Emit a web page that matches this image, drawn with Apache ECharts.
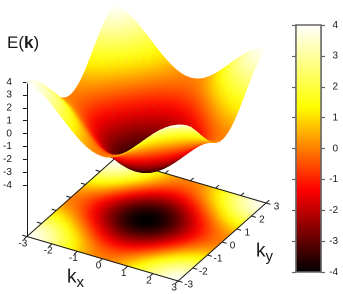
<!DOCTYPE html>
<html><head><meta charset="utf-8">
<style>html,body{margin:0;padding:0;background:#fff}#c{width:343px;height:294px;filter:blur(0.3px)}</style>
<script src="https://cdn.jsdelivr.net/npm/echarts@6/dist/echarts.min.js"></script>
</head><body><div id="c"></div>
<script>
const kValues=[-3,-2.8,-2.6,-2.4,-2.2,-2,-1.8,-1.6,-1.4,-1.2,-1,-.8,-.6,-.4,-.2,0,.2,.4,.6,.8,1,1.2,1.4,1.6,1.8,2,2.2,2.4,2.6,2.8,3];
const energy=[
[3.96,3.86,3.69,3.45,3.16,2.81,2.43,2.04,1.64,1.26,.9,.59,.33,.14,.02,-.02,.02,.14,.33,.59,.9,1.26,1.64,2.04,2.43,2.81,3.16,3.45,3.69,3.86,3.96],
[3.86,3.76,3.59,3.35,3.06,2.71,2.33,1.94,1.54,1.16,.8,.49,.23,.04,-.08,-.12,-.08,.04,.23,.49,.8,1.16,1.54,1.94,2.33,2.71,3.06,3.35,3.59,3.76,3.86],
[3.69,3.59,3.42,3.18,2.89,2.54,2.16,1.77,1.37,.99,.63,.32,.06,-.13,-.25,-.29,-.25,-.13,.06,.32,.63,.99,1.37,1.77,2.16,2.54,2.89,3.18,3.42,3.59,3.69],
[3.45,3.35,3.18,2.94,2.65,2.3,1.92,1.53,1.13,.75,.39,.08,-.18,-.37,-.49,-.53,-.49,-.37,-.18,.08,.39,.75,1.13,1.53,1.92,2.3,2.65,2.94,3.18,3.35,3.45],
[3.16,3.06,2.89,2.65,2.36,2.01,1.63,1.24,.84,.46,.1,-.21,-.47,-.66,-.78,-.82,-.78,-.66,-.47,-.21,.1,.46,.84,1.24,1.63,2.01,2.36,2.65,2.89,3.06,3.16],
[2.81,2.71,2.54,2.3,2.01,1.66,1.28,.89,.49,.11,-.25,-.56,-.82,-1.01,-1.13,-1.17,-1.13,-1.01,-.82,-.56,-.25,.11,.49,.89,1.28,1.66,2.01,2.3,2.54,2.71,2.81],
[2.43,2.33,2.16,1.92,1.63,1.28,.9,.51,.11,-.27,-.63,-.94,-1.2,-1.39,-1.51,-1.55,-1.51,-1.39,-1.2,-.94,-.63,-.27,.11,.51,.9,1.28,1.63,1.92,2.16,2.33,2.43],
[2.04,1.94,1.77,1.53,1.24,.89,.51,.12,-.28,-.66,-1.02,-1.33,-1.59,-1.78,-1.9,-1.94,-1.9,-1.78,-1.59,-1.33,-1.02,-.66,-.28,.12,.51,.89,1.24,1.53,1.77,1.94,2.04],
[1.64,1.54,1.37,1.13,.84,.49,.11,-.28,-.68,-1.06,-1.42,-1.73,-1.99,-2.18,-2.3,-2.34,-2.3,-2.18,-1.99,-1.73,-1.42,-1.06,-.68,-.28,.11,.49,.84,1.13,1.37,1.54,1.64],
[1.26,1.16,.99,.75,.46,.11,-.27,-.66,-1.06,-1.44,-1.8,-2.11,-2.37,-2.56,-2.68,-2.72,-2.68,-2.56,-2.37,-2.11,-1.8,-1.44,-1.06,-.66,-.27,.11,.46,.75,.99,1.16,1.26],
[.9,.8,.63,.39,.1,-.25,-.63,-1.02,-1.42,-1.8,-2.16,-2.47,-2.73,-2.92,-3.04,-3.08,-3.04,-2.92,-2.73,-2.47,-2.16,-1.8,-1.42,-1.02,-.63,-.25,.1,.39,.63,.8,.9],
[.59,.49,.32,.08,-.21,-.56,-.94,-1.33,-1.73,-2.11,-2.47,-2.78,-3.04,-3.23,-3.35,-3.39,-3.35,-3.23,-3.04,-2.78,-2.47,-2.11,-1.73,-1.33,-.94,-.56,-.21,.08,.32,.49,.59],
[.33,.23,.06,-.18,-.47,-.82,-1.2,-1.59,-1.99,-2.37,-2.73,-3.04,-3.3,-3.49,-3.61,-3.65,-3.61,-3.49,-3.3,-3.04,-2.73,-2.37,-1.99,-1.59,-1.2,-.82,-.47,-.18,.06,.23,.33],
[.14,.04,-.13,-.37,-.66,-1.01,-1.39,-1.78,-2.18,-2.56,-2.92,-3.23,-3.49,-3.68,-3.8,-3.84,-3.8,-3.68,-3.49,-3.23,-2.92,-2.56,-2.18,-1.78,-1.39,-1.01,-.66,-.37,-.13,.04,.14],
[.02,-.08,-.25,-.49,-.78,-1.13,-1.51,-1.9,-2.3,-2.68,-3.04,-3.35,-3.61,-3.8,-3.92,-3.96,-3.92,-3.8,-3.61,-3.35,-3.04,-2.68,-2.3,-1.9,-1.51,-1.13,-.78,-.49,-.25,-.08,.02],
[-.02,-.12,-.29,-.53,-.82,-1.17,-1.55,-1.94,-2.34,-2.72,-3.08,-3.39,-3.65,-3.84,-3.96,-4,-3.96,-3.84,-3.65,-3.39,-3.08,-2.72,-2.34,-1.94,-1.55,-1.17,-.82,-.53,-.29,-.12,-.02],
[.02,-.08,-.25,-.49,-.78,-1.13,-1.51,-1.9,-2.3,-2.68,-3.04,-3.35,-3.61,-3.8,-3.92,-3.96,-3.92,-3.8,-3.61,-3.35,-3.04,-2.68,-2.3,-1.9,-1.51,-1.13,-.78,-.49,-.25,-.08,.02],
[.14,.04,-.13,-.37,-.66,-1.01,-1.39,-1.78,-2.18,-2.56,-2.92,-3.23,-3.49,-3.68,-3.8,-3.84,-3.8,-3.68,-3.49,-3.23,-2.92,-2.56,-2.18,-1.78,-1.39,-1.01,-.66,-.37,-.13,.04,.14],
[.33,.23,.06,-.18,-.47,-.82,-1.2,-1.59,-1.99,-2.37,-2.73,-3.04,-3.3,-3.49,-3.61,-3.65,-3.61,-3.49,-3.3,-3.04,-2.73,-2.37,-1.99,-1.59,-1.2,-.82,-.47,-.18,.06,.23,.33],
[.59,.49,.32,.08,-.21,-.56,-.94,-1.33,-1.73,-2.11,-2.47,-2.78,-3.04,-3.23,-3.35,-3.39,-3.35,-3.23,-3.04,-2.78,-2.47,-2.11,-1.73,-1.33,-.94,-.56,-.21,.08,.32,.49,.59],
[.9,.8,.63,.39,.1,-.25,-.63,-1.02,-1.42,-1.8,-2.16,-2.47,-2.73,-2.92,-3.04,-3.08,-3.04,-2.92,-2.73,-2.47,-2.16,-1.8,-1.42,-1.02,-.63,-.25,.1,.39,.63,.8,.9],
[1.26,1.16,.99,.75,.46,.11,-.27,-.66,-1.06,-1.44,-1.8,-2.11,-2.37,-2.56,-2.68,-2.72,-2.68,-2.56,-2.37,-2.11,-1.8,-1.44,-1.06,-.66,-.27,.11,.46,.75,.99,1.16,1.26],
[1.64,1.54,1.37,1.13,.84,.49,.11,-.28,-.68,-1.06,-1.42,-1.73,-1.99,-2.18,-2.3,-2.34,-2.3,-2.18,-1.99,-1.73,-1.42,-1.06,-.68,-.28,.11,.49,.84,1.13,1.37,1.54,1.64],
[2.04,1.94,1.77,1.53,1.24,.89,.51,.12,-.28,-.66,-1.02,-1.33,-1.59,-1.78,-1.9,-1.94,-1.9,-1.78,-1.59,-1.33,-1.02,-.66,-.28,.12,.51,.89,1.24,1.53,1.77,1.94,2.04],
[2.43,2.33,2.16,1.92,1.63,1.28,.9,.51,.11,-.27,-.63,-.94,-1.2,-1.39,-1.51,-1.55,-1.51,-1.39,-1.2,-.94,-.63,-.27,.11,.51,.9,1.28,1.63,1.92,2.16,2.33,2.43],
[2.81,2.71,2.54,2.3,2.01,1.66,1.28,.89,.49,.11,-.25,-.56,-.82,-1.01,-1.13,-1.17,-1.13,-1.01,-.82,-.56,-.25,.11,.49,.89,1.28,1.66,2.01,2.3,2.54,2.71,2.81],
[3.16,3.06,2.89,2.65,2.36,2.01,1.63,1.24,.84,.46,.1,-.21,-.47,-.66,-.78,-.82,-.78,-.66,-.47,-.21,.1,.46,.84,1.24,1.63,2.01,2.36,2.65,2.89,3.06,3.16],
[3.45,3.35,3.18,2.94,2.65,2.3,1.92,1.53,1.13,.75,.39,.08,-.18,-.37,-.49,-.53,-.49,-.37,-.18,.08,.39,.75,1.13,1.53,1.92,2.3,2.65,2.94,3.18,3.35,3.45],
[3.69,3.59,3.42,3.18,2.89,2.54,2.16,1.77,1.37,.99,.63,.32,.06,-.13,-.25,-.29,-.25,-.13,.06,.32,.63,.99,1.37,1.77,2.16,2.54,2.89,3.18,3.42,3.59,3.69],
[3.86,3.76,3.59,3.35,3.06,2.71,2.33,1.94,1.54,1.16,.8,.49,.23,.04,-.08,-.12,-.08,.04,.23,.49,.8,1.16,1.54,1.94,2.33,2.71,3.06,3.35,3.59,3.76,3.86],
[3.96,3.86,3.69,3.45,3.16,2.81,2.43,2.04,1.64,1.26,.9,.59,.33,.14,.02,-.02,.02,.14,.33,.59,.9,1.26,1.64,2.04,2.43,2.81,3.16,3.45,3.69,3.86,3.96]
];
const kTicks=[-3,-2,-1,0,1,2,3];
const zTicks=[-4,-3,-2,-1,0,1,2,3,4];
const colorStops=['#000000','#ff0000','#ffff00','#ffffff'];
const BASE_Z=-8, TOP_Z=4, PAL_MIN=-4, PAL_MAX=4;
const INK='#1a1a1a', FRAME='#666666';

const stopRgb=[[0,0,0],[255,0,0],[255,255,0],[255,255,255]];
function palette(v){
  let t=(v-PAL_MIN)/(PAL_MAX-PAL_MIN); t=Math.max(0,Math.min(1,t))*3;
  const n=Math.min(2,Math.floor(t)), f=t-n, a=stopRgb[n], b=stopRgb[n+1];
  return 'rgb('+a.map((c,m)=>Math.round(c+(b[m]-c)*f)).join(',')+')';
}
// oblique view: maps (kx,ky,z) to the two hidden/plot axes of the main grid
function view(kx,ky,z){return [(kx+3)+0.5813*(ky+3), z-0.576*(kx+3)+1.01*(ky+3)];}

function cellShape(api,i,j,zAt){
  const idx=[[i,j],[i+1,j],[i+1,j+1],[i,j+1]];
  const vals=idx.map(q=>energy[q[0]][q[1]]);
  const pts=idx.map((q,m)=>api.coord(view(kValues[q[0]],kValues[q[1]],zAt(vals[m]))));
  const e1=[(pts[1][0]-pts[0][0]+pts[2][0]-pts[3][0])/2,(pts[1][1]-pts[0][1]+pts[2][1]-pts[3][1])/2];
  const e2=[(pts[3][0]-pts[0][0]+pts[2][0]-pts[1][0])/2,(pts[3][1]-pts[0][1]+pts[2][1]-pts[1][1])/2];
  const d1=(vals[1]-vals[0]+vals[2]-vals[3])/2, d2=(vals[3]-vals[0]+vals[2]-vals[1])/2;
  const det=e1[0]*e2[1]-e1[1]*e2[0];
  const vc=(vals[0]+vals[1]+vals[2]+vals[3])/4;
  let fill=palette(vc);
  if(Math.abs(det)>1.5){
    const gx=(d1*e2[1]-d2*e1[1])/det, gy=(e1[0]*d2-e2[0]*d1)/det, g2=gx*gx+gy*gy;
    if(g2>1e-6){
      const cx=(pts[0][0]+pts[1][0]+pts[2][0]+pts[3][0])/4, cy=(pts[0][1]+pts[1][1]+pts[2][1]+pts[3][1])/4;
      const lo=Math.min.apply(null,vals), hi=Math.max.apply(null,vals);
      fill=new echarts.graphic.LinearGradient(
        cx+gx/g2*(lo-vc),cy+gy/g2*(lo-vc),cx+gx/g2*(hi-vc),cy+gy/g2*(hi-vc),
        [{offset:0,color:palette(lo)},{offset:1,color:palette(hi)}],true);
    }
  }
  return {type:'polygon',silent:true,shape:{points:pts},style:{fill:fill,stroke:fill,lineWidth:0.9}};
}
const cells=[];
for(let i=0;i<kValues.length-1;i++)for(let j=kValues.length-2;j>=0;j--)cells.push([i,j]);

const frameEdges=[[-3,-3,3,-3],[3,-3,3,3],[3,3,-3,3],[-3,3,-3,-3]];
const frameItems=[];
frameEdges.forEach(e=>frameItems.push(e));
kTicks.forEach(k=>{
  frameItems.push([k,-3,k,-3.22]);frameItems.push([k,3,k,3.22]);
  frameItems.push([3,k,3.18,k]);frameItems.push([-3,k,-3.18,k]);
});
function lineItem(params,api){
  const a=api.coord(view(api.value(0),api.value(1),BASE_Z)), b=api.coord(view(api.value(2),api.value(3),BASE_Z));
  return {type:'line',silent:true,shape:{x1:a[0],y1:a[1],x2:b[0],y2:b[1]},style:{stroke:INK,lineWidth:1}};
}
const tickText=[];
kTicks.forEach(k=>{tickText.push([k,-3,String(k),-4,7]);tickText.push([3,k,String(k),10.5,4]);});

const subLabel=(t)=>({text:'{k|k}{s|'+t+'}',rich:{k:{fontSize:19,fontFamily:'Liberation Sans',fill:INK,lineHeight:22},s:{fontSize:15,fontFamily:'Liberation Sans',fill:INK,padding:[11,0,0,0]}}});
const opt={
  animation:false,
  backgroundColor:'#fff',
  textStyle:{fontFamily:'Liberation Sans'},
  grid:[
    {left:22.5,top:82,width:243.6,height:154.5},
    {left:296,top:25,width:25,height:247}
  ],
  xAxis:[
    {type:'value',gridIndex:0,min:0,max:9.49,show:false},
    {type:'value',gridIndex:1,min:0,max:1,show:false}
  ],
  yAxis:[
    {type:'value',gridIndex:0,min:BASE_Z,max:TOP_Z,interval:1,position:'left',splitLine:{show:false},
     axisLine:{show:true,lineStyle:{color:INK,width:1}},
     axisTick:{show:true,length:4,customValues:zTicks,lineStyle:{color:INK}},
     axisLabel:{show:true,customValues:zTicks,margin:15,fontSize:10,color:INK,fontFamily:'Liberation Sans'}},
    {type:'value',gridIndex:1,min:-4,max:4,interval:1,position:'left',splitLine:{show:false},
     axisLine:{show:true,lineStyle:{color:FRAME,width:1.5}},
     axisTick:{show:true,length:4,lineStyle:{color:FRAME,width:1.2}},axisLabel:{show:false}},
    {type:'value',gridIndex:1,min:-4,max:4,interval:1,position:'right',splitLine:{show:false},
     axisLine:{show:true,lineStyle:{color:FRAME,width:1.5}},
     axisTick:{show:true,length:4,lineStyle:{color:FRAME,width:1.2}},
     axisLabel:{show:true,margin:17,align:'right',fontSize:10,color:INK,fontFamily:'Liberation Sans'}}
  ],
  series:[
    {type:'custom',name:'base',xAxisIndex:0,yAxisIndex:0,coordinateSystem:'cartesian2d',z:2,progressive:0,clip:false,
     data:cells,renderItem:(p,api)=>cellShape(api,api.value(0),api.value(1),()=>BASE_Z)},
    {type:'custom',name:'frame',xAxisIndex:0,yAxisIndex:0,z:3,progressive:0,
     data:frameItems,encode:{x:0,y:1},renderItem:lineItem},
    {type:'custom',name:'tick labels',xAxisIndex:0,yAxisIndex:0,z:3,progressive:0,
     data:tickText,encode:{x:0,y:1},
     dimensions:[{name:'a',type:'number'},{name:'b',type:'number'},{name:'t',type:'ordinal'},{name:'dx',type:'number'},{name:'dy',type:'number'}],
     renderItem:(p,api)=>{
       const d=tickText[p.dataIndex], c=api.coord(view(d[0],d[1],BASE_Z));
       return {type:'text',silent:true,style:{text:d[2],x:c[0]+d[3],y:c[1]+d[4],fill:INK,align:'center',verticalAlign:'middle',font:'10px "Liberation Sans"'}};
     }},
    {type:'custom',name:'surface',xAxisIndex:0,yAxisIndex:0,z:4,progressive:0,clip:false,
     data:cells,renderItem:(p,api)=>cellShape(api,api.value(0),api.value(1),v=>v)},
    {type:'custom',name:'colorbar',xAxisIndex:1,yAxisIndex:1,z:2,progressive:0,
     data:[[0,-4,1,4]],encode:{x:0,y:1},
     renderItem:(p,api)=>{
       const a=api.coord([api.value(0),api.value(1)]), b=api.coord([api.value(2),api.value(3)]);
       return {type:'rect',silent:true,shape:{x:a[0],y:b[1],width:b[0]-a[0],height:a[1]-b[1]},
         style:{stroke:FRAME,lineWidth:1.5,fill:new echarts.graphic.LinearGradient(0,1,0,0,
           colorStops.map((c,m)=>({offset:m/(colorStops.length-1),color:c})))}};
     }}
  ],
  graphic:[
    {type:'text',left:7,top:35,silent:true,style:{text:'E({b|k})',rich:{b:{fontSize:17,fontWeight:'bold',fontFamily:'Liberation Sans',fill:INK}},fontSize:17,fontFamily:'Liberation Sans',fill:INK}},
    {type:'text',left:67,top:268,silent:true,style:subLabel('x')},
    {type:'text',left:256,top:242,silent:true,style:subLabel('y')}
  ]
};
const chart=echarts.init(document.getElementById('c'),null,{renderer:'canvas',width:343,height:294,devicePixelRatio:2});
chart.setOption(opt);
</script></body></html>
